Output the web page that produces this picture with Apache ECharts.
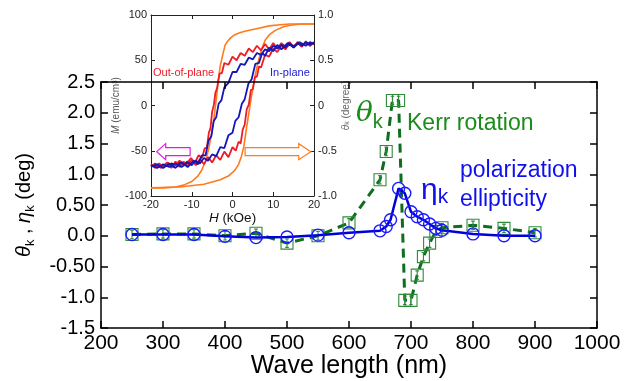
<!DOCTYPE html>
<html>
<head>
<meta charset="utf-8">
<script src="https://cdn.jsdelivr.net/npm/echarts@6/dist/echarts.min.js"></script>
<style>
  html, body { margin: 0; padding: 0; background: #fff; }
  #chart { width: 632px; height: 381px; }
</style>
</head>
<body>
<div id="chart"></div>
<script>
// Kerr spectra (main plot)
const kerrWave = [250, 300, 350, 400, 450, 500, 550, 600, 650, 660, 670, 680, 690, 700, 710, 720, 730, 740, 750, 800, 850, 900];
const kerrRotation = [0.02, 0.03, 0.03, 0.0, 0.04, -0.12, 0.0, 0.21, 0.91, 1.37, 2.2, 2.2, -1.05, -1.05, -0.64, -0.34, -0.12, 0.07, 0.13, 0.17, 0.12, 0.05];
const ellipWave = [250, 300, 350, 400, 450, 500, 550, 600, 650, 660, 667, 680, 690, 700, 710, 720, 730, 740, 750, 800, 850, 900];
const ellipticity = [0.02, 0.02, 0.02, -0.01, -0.03, -0.02, 0.01, 0.05, 0.08, 0.15, 0.26, 0.77, 0.69, 0.39, 0.31, 0.26, 0.19, 0.12, 0.09, 0.03, 0.0, 0.0];
const yTickLabels = { "2.5": "2.5", "2": "2.0", "1.5": "1.5", "1": "1.0", "0.5": "0.50", "0": "0.0", "-0.5": "-0.50", "-1": "-1.0", "-1.5": "-1.5" };

// inset: hysteresis loops, H in kOe
const kerrUpH = [20, 17, 14, 11, 9, 7, 5, 3, 1.6, 0.5, -0.4, -1.2, -1.8, -2.4, -3.0, -3.5, -3.8, -4.2, -4.6, -5.2, -5.9, -6.6, -7.5, -8.5, -10, -12, -14, -17, -20];
const kerrUpTheta = [0.90, 0.90, 0.90, 0.89, 0.88, 0.86, 0.84, 0.82, 0.80, 0.78, 0.75, 0.71, 0.67, 0.56, 0.44, 0.27, 0.14, -0.01, -0.16, -0.33, -0.49, -0.61, -0.71, -0.78, -0.84, -0.88, -0.90, -0.91, -0.91];
const kerrDownH = [-20, -13, -7, -3, -1, 0.5, 1.5, 2.2, 2.8, 3.5, 4.2, 4.8, 5.5, 6.4, 7.2, 8.0, 9, 10.5, 12.5, 14.6, 17, 20];
const kerrDownTheta = [-0.91, -0.90, -0.87, -0.82, -0.78, -0.72, -0.65, -0.56, -0.45, -0.23, -0.03, 0.14, 0.32, 0.50, 0.63, 0.72, 0.78, 0.83, 0.87, 0.89, 0.90, 0.90];

const outUpH = [20, 19, 18, 17, 16, 15, 14, 13, 12, 11, 10, 9, 8, 7, 6, 5, 4, 3, 2, 1, 0, -1, -2, -2.6, -3.2, -3.8, -4.2, -4.6, -5, -5.4, -5.8, -6.3, -6.8, -7.5, -8.3, -9.2, -10.2, -11.5, -13, -14.5, -16, -17.5, -19, -20];
const outUpM = [70, 66, 71, 65, 70, 64, 70, 65, 69, 63, 69, 62, 68, 61, 66, 59, 63, 55, 58, 50, 54, 45, 47, 36, 35, 19, 14, 0, -7, -25, -30, -47, -47, -58, -55, -63, -58, -66, -61, -68, -63, -69, -64, -67];
const outDownH = [-20, -19, -18, -17, -16, -15, -14, -13, -12, -11, -10, -9, -8, -7, -6, -5, -4, -3, -2, -1, 0, 0.8, 1.5, 2, 2.5, 3, 3.5, 4, 4.5, 5, 5.5, 6, 6.5, 7, 8, 9, 10, 11, 12, 13, 14, 15, 16, 17, 18, 19, 20];
const outDownM = [-65, -69, -64, -68, -63, -69, -62, -68, -62, -67, -60, -66, -59, -65, -57, -63, -55, -60, -51, -57, -46, -50, -40, -42, -27, -21, -4, 1, 17, 18, 31, 32, 43, 42, 56, 54, 63, 59, 66, 62, 69, 64, 70, 65, 70, 66, 69];

const inUpH = [20, 19, 18, 17, 16, 15, 14, 13, 12, 11, 10, 9, 8, 7, 6, 5, 4, 3, 2, 1, 0, -1, -2, -2.7, -3.4, -4, -4.6, -5.2, -5.9, -6.6, -7.5, -8.5, -9.5, -11, -12.5, -14, -15.5, -17, -18.5, -20];
const inUpM = [70, 67, 70, 66, 69, 65, 69, 64, 67, 63, 66, 60, 62, 56, 58, 51, 53, 45, 46, 37, 37, 25, 20, 6, 2, -13, -17, -34, -39, -55, -55, -65, -61, -68, -63, -69, -64, -69, -65, -68];
const inDownH = [-20, -18.5, -17, -15.5, -14, -12.5, -11, -10, -9, -8, -7, -6, -5, -4, -3, -2, -1, 0, 0.7, 1.5, 2.3, 3, 3.9, 4.7, 5.6, 6.5, 7.3, 8, 9, 10, 11, 12, 13.5, 15, 16.5, 18, 19, 20];
const inDownM = [-66, -69, -65, -68, -64, -68, -63, -66, -61, -64, -58, -61, -54, -56, -46, -47, -33, -30, -17, -13, 2, 7, 24, 29, 46, 47, 58, 55, 64, 60, 67, 62, 69, 64, 70, 66, 70, 68];

const blackH = [-20, -19, -18, -17, -16, -15, -14, -13, -12, -11, -10, null, 11, 12, 13, 14, 15, 16, 17, 18, 19, 20];
const blackM = [-67, -65, -68, -66, -67, -64, -66, -63, -65, -62, -63, null, 64, 66, 65, 67, 66, 68, 67, 69, 68, 68];

// field-direction arrows in the inset (H from -> to, at M)
const arrowOut = { from: -10.4, to: -18.6, m: -51 };
const arrowIn = { from: 3.1, to: 19.2, m: -51 };

const pairs = (xs, ys) => xs.map((x, i) => (x === null ? null : [x, ys[i]]));

const FONT = "Liberation Sans";
const GREEN = "#0e6e1e";
const GREEN_MK = "#2f8a3a";
const BLUE = "#0000d8";
const ORANGE = "#ff7a1c";

const mainLine = { onZero: false, lineStyle: { color: "#000", width: 1.5 } };
const mainTick = { inside: true, length: 7, lineStyle: { color: "#000", width: 1.5 } };
const insetLine = { show: true, onZero: false, lineStyle: { color: "#222", width: 1 } };
const insetTick = { inside: true, length: 4, lineStyle: { color: "#222" } };

const chart = echarts.init(document.getElementById("chart"));

const option = {
  animation: false,
  backgroundColor: "#fff",
  textStyle: { fontFamily: FONT },
  grid: [
    { left: 101, right: 35, top: 82, bottom: 53, outerBoundsMode: "none" },
    { left: 151, right: 318, top: 15, bottom: 185, outerBoundsMode: "none", show: true, backgroundColor: "#fff", borderWidth: 0, z: 2 },
  ],
  xAxis: [
    {
      gridIndex: 0, type: "value", min: 200, max: 1000, interval: 100,
      name: "Wave length (nm)", nameLocation: "middle", nameGap: 26, nameMoveOverlap: false,
      nameTextStyle: { fontSize: 25, color: "#000" },
      axisLine: mainLine, axisTick: mainTick,
      axisLabel: { fontSize: 21, color: "#000", margin: 5, formatter: (v) => String(v) },
      splitLine: { show: false },
    },
    {
      gridIndex: 0, type: "value", min: 200, max: 1000, interval: 100, position: "top", z: 8,
      axisLine: mainLine, axisTick: mainTick,
      axisLabel: { show: false }, splitLine: { show: false },
    },
    {
      gridIndex: 1, type: "value", min: -20, max: 20, interval: 10, z: 3,
      name: "{i|H} (kOe)", nameLocation: "middle", nameGap: 15,
      nameTextStyle: { fontSize: 13.5, color: "#111", rich: { i: { fontStyle: "italic", fontSize: 13.5, color: "#111" } } },
      axisLine: insetLine, axisTick: insetTick,
      axisLabel: { fontSize: 11, color: "#222", margin: 3 },
      splitLine: { show: false },
    },
    {
      gridIndex: 1, type: "value", min: -20, max: 20, interval: 10, position: "top", z: 3,
      axisLine: insetLine, axisTick: insetTick,
      axisLabel: { show: false }, splitLine: { show: false },
    },
  ],
  yAxis: [
    {
      gridIndex: 0, type: "value", min: -1.5, max: 2.5, interval: 0.5,
      name: "{t|θ}{s|k}{p| , }{t|η}{s|k}{p| (deg)}", nameLocation: "middle", nameGap: 64, nameRotate: 90,
      nameTextStyle: {
        fontSize: 20, color: "#000",
        rich: {
          t: { fontSize: 20, fontStyle: "italic", color: "#000", lineHeight: 26 },
          s: { fontSize: 13, color: "#000", verticalAlign: "bottom", lineHeight: 26 },
          p: { fontSize: 20, color: "#000", lineHeight: 26 },
        },
      },
      axisLine: mainLine, axisTick: mainTick,
      axisLabel: { fontSize: 20, color: "#000", margin: 6, formatter: (v) => yTickLabels[String(v)] ?? String(v) },
      splitLine: { show: false },
    },
    {
      gridIndex: 0, type: "value", min: -1.5, max: 2.5, interval: 0.5, position: "right",
      axisLine: { show: true, onZero: false, lineStyle: { color: "#000", width: 1.5 } }, axisTick: mainTick,
      axisLabel: { show: false }, splitLine: { show: false },
    },
    {
      gridIndex: 1, type: "value", min: -100, max: 100, interval: 50, z: 3,
      name: "{i|M} (emu/cm³)", nameLocation: "middle", nameGap: 24, nameRotate: 90,
      nameTextStyle: { fontSize: 10, color: "#555", rich: { i: { fontStyle: "italic", fontSize: 10, color: "#555" } } },
      axisLine: insetLine, axisTick: insetTick,
      axisLabel: { fontSize: 11, color: "#222", margin: 4 },
      splitLine: { show: false },
    },
    {
      gridIndex: 1, type: "value", min: -1, max: 1, interval: 0.5, position: "right", z: 3,
      name: "{i|θ}{s|k} (degree)", nameLocation: "middle", nameGap: 24, nameRotate: 90,
      nameTextStyle: {
        fontSize: 10, color: "#666",
        rich: { i: { fontStyle: "italic", fontSize: 10, color: "#666" }, s: { fontSize: 7, color: "#666", verticalAlign: "bottom" } },
      },
      axisLine: insetLine, axisTick: insetTick,
      axisLabel: { fontSize: 11, color: "#222", margin: 4, formatter: (v) => (v === 0 ? "0" : v.toFixed(1)) },
      splitLine: { show: false },
    },
  ],
  series: [
    {
      name: "Kerr rotation", type: "line", xAxisIndex: 0, yAxisIndex: 0,
      data: pairs(kerrWave, kerrRotation),
      lineStyle: { color: GREEN, width: 3, type: [9, 6] },
      symbol: "path://M0,0H10V10H0ZM5,1.5V8.5M3.5,1.5H6.5M3.5,8.5H6.5",
      symbolSize: 12,
      itemStyle: { color: "rgba(0,0,0,0)", borderColor: GREEN_MK, borderWidth: 1.1 },
      z: 4,
    },
    {
      name: "Ellipticity", type: "line", xAxisIndex: 0, yAxisIndex: 0,
      data: pairs(ellipWave, ellipticity),
      lineStyle: { color: BLUE, width: 2.5 },
      symbol: "circle", symbolSize: 12,
      itemStyle: { color: "rgba(0,0,0,0)", borderColor: "#1a1aff", borderWidth: 1.4 },
      z: 5,
    },
    {
      type: "line", xAxisIndex: 2, yAxisIndex: 3, showSymbol: false, z: 4,
      data: pairs(kerrUpH, kerrUpTheta), lineStyle: { color: ORANGE, width: 1.6 },
    },
    {
      type: "line", xAxisIndex: 2, yAxisIndex: 3, showSymbol: false, z: 4,
      data: pairs(kerrDownH, kerrDownTheta), lineStyle: { color: ORANGE, width: 1.6 },
    },
    {
      type: "line", xAxisIndex: 2, yAxisIndex: 2, showSymbol: false, z: 4,
      data: pairs(blackH, blackM), lineStyle: { color: "#1a0f20", width: 1.8 },
    },
    {
      type: "line", xAxisIndex: 2, yAxisIndex: 2, showSymbol: false, z: 4,
      data: pairs(outUpH, outUpM), lineStyle: { color: "#ee1c24", width: 1.8 },
    },
    {
      type: "line", xAxisIndex: 2, yAxisIndex: 2, showSymbol: false, z: 4,
      data: pairs(outDownH, outDownM), lineStyle: { color: "#ee1c24", width: 1.8 },
    },
    {
      type: "line", xAxisIndex: 2, yAxisIndex: 2, showSymbol: false, z: 4,
      data: pairs(inUpH, inUpM), lineStyle: { color: "#1616b8", width: 1.8 },
    },
    {
      type: "line", xAxisIndex: 2, yAxisIndex: 2, showSymbol: false, z: 4,
      data: pairs(inDownH, inDownM), lineStyle: { color: "#1616b8", width: 1.8 },
    },
  ],
};

chart.setOption(option);

// hollow arrow polygon in pixel space, built from the inset's own axes
function arrowShape(a, headLen) {
  const p0 = chart.convertToPixel({ xAxisIndex: 2, yAxisIndex: 2 }, [a.from, a.m]);
  const p1 = chart.convertToPixel({ xAxisIndex: 2, yAxisIndex: 2 }, [a.to, a.m]);
  const dir = Math.sign(p1[0] - p0[0]);
  const xb = p1[0] - dir * headLen;
  const y = p0[1];
  return [[p0[0], y - 4], [xb, y - 4], [xb, y - 8], [p1[0], y], [xb, y + 8], [xb, y + 4], [p0[0], y + 4]];
}

chart.setOption({
  graphic: [
    { type: "polygon", z: 10, shape: { points: arrowShape(arrowOut, 9) }, style: { fill: "#fff", stroke: "#e01ee0", lineWidth: 1.2 } },
    { type: "polygon", z: 10, shape: { points: arrowShape(arrowIn, 12) }, style: { fill: "#fff", stroke: ORANGE, lineWidth: 1.2 } },
    { type: "text", z: 10, left: 153, top: 67, style: { text: "Out-of-plane", fontSize: 11, fill: "#e8202a", fontFamily: FONT } },
    { type: "text", z: 10, left: 270, top: 67, style: { text: "In-plane", fontSize: 11, fill: "#2020d0", fontFamily: FONT } },
    {
      type: "text", z: 10, left: 356, top: 100,
      style: {
        text: "{t|θ}{s|k}",
        rich: {
          t: { fontSize: 28, fontStyle: "italic", fontFamily: "DejaVu Serif", fill: "#1a8c1a", lineHeight: 36 },
          s: { fontSize: 20, fontFamily: FONT, fill: "#1a8c1a", verticalAlign: "bottom", lineHeight: 36 },
        },
      },
    },
    { type: "text", z: 10, left: 407, top: 112, style: { text: "Kerr rotation", fontSize: 23, fill: "#1a8c1a", fontFamily: FONT } },
    { type: "text", z: 10, left: 460, top: 159, style: { text: "polarization", fontSize: 23, fill: "#1010ee", fontFamily: FONT } },
    { type: "text", z: 10, left: 460, top: 188, style: { text: "ellipticity", fontSize: 23, fill: "#1010ee", fontFamily: FONT } },
    {
      type: "text", z: 10, left: 421, top: 176,
      style: {
        text: "{t|η}{s|k}",
        rich: {
          t: { fontSize: 30, fontFamily: FONT, fill: "#1010ee", lineHeight: 34 },
          s: { fontSize: 21, fontFamily: FONT, fill: "#1010ee", verticalAlign: "bottom", lineHeight: 34 },
        },
      },
    },
  ],
});
</script>
</body>
</html>
